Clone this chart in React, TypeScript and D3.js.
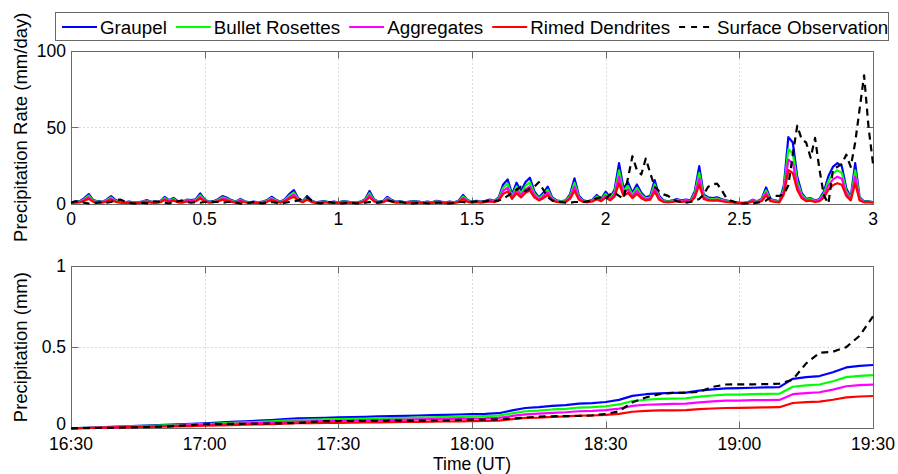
import React, { useEffect, useRef } from "react";
import * as d3 from "d3";

const seriesNames = ["Graupel", "Bullet Rosettes", "Aggregates", "Rimed Dendrites", "Surface Observation"];
const seriesColors = ["#0000ff", "#00ff00", "#ff00ff", "#ff0000", "#000000"];

// Precipitation rate (mm/day), one sample per minute from 16:30 UT (181 samples, 3 h)
const graupelRate = [
  0.8, 1.2, 1.5, 3.5, 6.2, 2.2, 1.5, 1.2, 2.5, 4.9,
  2.2, 1.2, 0.8, 1.2, 0.8, 0.8, 1.2, 2.2, 1.2, 0.8,
  1.5, 4.3, 2.2, 3.7, 1.5, 1.2, 2.5, 2.2, 2.8, 6.6,
  2.5, 1.2, 1.5, 2.8, 4.9, 3.8, 2.2, 1.2, 3, 1.5,
  0.8, 1.2, 0.8, 1.2, 2.2, 4.4, 2.5, 1.2, 2.8, 6.2,
  8.8, 3.5, 1.5, 4.9, 1.8, 0.8, 1.2, 1.5, 0.8, 1.2,
  0.8, 1.5, 1.2, 0.8, 0.8, 1.2, 2.8, 8.2, 2.8, 1.2,
  1.5, 4.4, 2.2, 1.2, 1.5, 0.8, 1.2, 1.5, 1.2, 0.8,
  1.2, 0.8, 1.8, 1.2, 0.8, 1.2, 0.8, 1.8, 5.6, 2.2,
  1.2, 1.8, 1.2, 1.8, 2.5, 1.8, 4, 12.5, 15.8, 6,
  13.6, 8, 14, 16.9, 8, 4, 7, 11, 4, 2,
  1.5, 2, 6, 16.5, 5, 2, 1.5, 2.5, 5.6, 3,
  7.7, 4, 9, 26.5, 10, 14, 7, 12.5, 7, 4,
  5, 15.3, 5, 2, 1.5, 2, 3, 2, 2.5, 2,
  8, 24.5, 6, 4, 3.5, 4, 3, 2, 1.5, 1,
  0.5, 0.5, 1, 2.5, 1.5, 3, 10.5, 3, 2, 1.5,
  12, 43.5, 40, 17.5, 7, 3, 3.5, 2, 3, 8,
  18, 24, 26.5, 24.5, 10, 4, 26.5, 4, 1.5, 1.5, 1,
];

const bulletRate = [
  0.7, 1.0, 1.2, 2.9, 5.1, 1.8, 1.2, 1.0, 2.1, 4.0,
  1.8, 1.0, 0.7, 1.0, 0.7, 0.7, 1.0, 1.8, 1.0, 0.7,
  1.2, 3.5, 1.8, 3.0, 1.2, 1.0, 2.1, 1.8, 2.3, 5.4,
  2.1, 1.0, 1.2, 2.3, 4.0, 3.1, 1.8, 1.0, 2.5, 1.2,
  0.7, 1.0, 0.7, 1.0, 1.8, 3.6, 2.1, 1.0, 2.3, 5.1,
  7.2, 2.9, 1.2, 4.0, 1.5, 0.7, 1.0, 1.2, 0.7, 1.0,
  0.7, 1.2, 1.0, 0.7, 0.7, 1.0, 2.3, 6.7, 2.3, 1.0,
  1.2, 3.6, 1.8, 1.0, 1.2, 0.7, 1.0, 1.2, 1.0, 0.7,
  1.0, 0.7, 1.5, 1.0, 0.7, 1.0, 0.7, 1.5, 4.6, 1.8,
  1.0, 1.5, 1.0, 1.5, 2.1, 1.5, 3.3, 10.3, 13.0, 4.9,
  11.2, 6.6, 11.5, 13.9, 6.6, 3.3, 5.7, 9.0, 3.3, 1.6,
  1.2, 1.6, 4.9, 13.5, 4.1, 1.6, 1.2, 2.1, 4.6, 2.5,
  6.3, 3.3, 7.4, 21.7, 8.2, 11.5, 5.7, 10.3, 5.7, 3.3,
  4.1, 12.5, 4.1, 1.6, 1.2, 1.6, 2.5, 1.6, 2.1, 1.6,
  6.6, 20.1, 4.9, 3.3, 2.9, 3.3, 2.5, 1.6, 1.2, 0.8,
  0.4, 0.4, 0.8, 2.1, 1.2, 2.5, 8.6, 2.5, 1.6, 1.2,
  9.8, 35.7, 32.8, 14.4, 5.7, 2.5, 2.9, 1.6, 2.5, 6.6,
  14.8, 19.7, 21.7, 20.1, 8.2, 3.3, 21.7, 3.3, 1.2, 1.2, 0.8,
];

const aggregatesRate = [
  0.5, 0.8, 1.0, 2.3, 4.1, 1.5, 1.0, 0.8, 1.7, 3.2,
  1.5, 0.8, 0.5, 0.8, 0.5, 0.5, 0.8, 1.5, 0.8, 0.5,
  1.0, 2.8, 1.5, 2.4, 1.0, 0.8, 1.7, 1.5, 1.8, 4.4,
  1.7, 0.8, 1.0, 1.8, 3.2, 2.5, 1.5, 0.8, 2.0, 1.0,
  0.5, 0.8, 0.5, 0.8, 1.5, 2.9, 1.7, 0.8, 1.8, 4.1,
  5.8, 2.3, 1.0, 3.2, 1.2, 0.5, 0.8, 1.0, 0.5, 0.8,
  0.5, 1.0, 0.8, 0.5, 0.5, 0.8, 1.8, 5.4, 1.8, 0.8,
  1.0, 2.9, 1.5, 0.8, 1.0, 0.5, 0.8, 1.0, 0.8, 0.5,
  0.8, 0.5, 1.2, 0.8, 0.5, 0.8, 0.5, 1.2, 3.7, 1.5,
  0.8, 1.2, 0.8, 1.2, 1.7, 1.2, 2.6, 8.3, 10.4, 4.0,
  9.0, 5.3, 9.2, 11.2, 5.3, 2.6, 4.6, 7.3, 2.6, 1.3,
  1.0, 1.3, 4.0, 10.9, 3.3, 1.3, 1.0, 1.7, 3.7, 2.0,
  5.1, 2.6, 5.9, 17.5, 6.6, 9.2, 4.6, 8.3, 4.6, 2.6,
  3.3, 10.1, 3.3, 1.3, 1.0, 1.3, 2.0, 1.3, 1.7, 1.3,
  5.3, 16.2, 4.0, 2.6, 2.3, 2.6, 2.0, 1.3, 1.0, 0.7,
  0.3, 0.3, 0.7, 1.7, 1.0, 2.0, 6.9, 2.0, 1.3, 1.0,
  7.9, 28.7, 26.4, 11.6, 4.6, 2.0, 2.3, 1.3, 2.0, 5.3,
  11.9, 15.8, 17.5, 16.2, 6.6, 2.6, 17.5, 2.6, 1.0, 1.0, 0.7,
];

const rimedRate = [
  0.4, 0.6, 0.8, 1.8, 3.1, 1.1, 0.8, 0.6, 1.3, 2.5,
  1.1, 0.6, 0.4, 0.6, 0.4, 0.4, 0.6, 1.1, 0.6, 0.4,
  0.8, 2.2, 1.1, 1.9, 0.8, 0.6, 1.3, 1.1, 1.4, 3.3,
  1.3, 0.6, 0.8, 1.4, 2.5, 1.9, 1.1, 0.6, 1.5, 0.8,
  0.4, 0.6, 0.4, 0.6, 1.1, 2.2, 1.3, 0.6, 1.4, 3.1,
  4.4, 1.8, 0.8, 2.5, 0.9, 0.4, 0.6, 0.8, 0.4, 0.6,
  0.4, 0.8, 0.6, 0.4, 0.4, 0.6, 1.4, 4.1, 1.4, 0.6,
  0.8, 2.2, 1.1, 0.6, 0.8, 0.4, 0.6, 0.8, 0.6, 0.4,
  0.6, 0.4, 0.9, 0.6, 0.4, 0.6, 0.4, 0.9, 2.8, 1.1,
  0.6, 0.9, 0.6, 0.9, 1.3, 0.9, 2, 6.3, 7.9, 3,
  6.8, 4, 7, 8.5, 4, 2, 3.5, 5.5, 2, 1,
  0.8, 1, 3, 8.3, 2.5, 1, 0.8, 1.3, 2.8, 1.5,
  3.9, 2, 4.5, 13.3, 5, 7, 3.5, 6.3, 3.5, 2,
  2.5, 7.7, 2.5, 1, 0.8, 1, 1.5, 1, 1.3, 1,
  4, 12.3, 3, 2, 1.8, 2, 1.5, 1, 0.8, 0.5,
  0.3, 0.3, 0.5, 1.3, 0.8, 1.5, 5.3, 1.5, 1, 0.8,
  6, 21.8, 20, 8.8, 3.5, 1.5, 1.8, 1, 1.5, 4,
  9, 12, 13.3, 12.3, 5, 2, 13.3, 2, 0.8, 0.8, 0.5,
];

const observedRate = [
  0.5, 1.5, 1, 0.5, 0, 0, 0.5, 1, 0.5, 1,
  2, 2.6, 1.5, 0.5, 0, 0, 0.5, 0, 1, 1.5,
  1, 0.5, 0, 1, 1.5, 2, 1, 0.5, 1, 0.5,
  1, 1.5, 1, 1, 0.5, 1, 1, 0.5, 0, 0,
  0.5, 1, 0.5, 0, 0.5, 1, 0.5, 0, 0.5, 1,
  1.5, 2, 3.5, 4, 2, 0.5, 0, 0.5, 1, 0.5,
  0, 0, 0.5, 0.5, 0, 0, 0.5, 1, 0.5, 0.5,
  1.5, 2, 1.5, 0.5, 1, 0.5, 0, 0, 0.5, 0.5,
  0, 0, 0.5, 0.5, 0, 0, 0.5, 1, 1, 0.5,
  1, 1.5, 1, 1.5, 2, 1.5, 2, 3, 5, 7,
  9, 11, 8, 10, 11, 14, 9, 4, 2, 1,
  1, 0.5, 0.5, 1, 1, 1, 1.5, 2, 3.5, 4,
  3, 6, 7, 5, 3, 16.5, 31, 22, 19, 29.5,
  20, 11, 8, 6, 5, 3, 1.5, 1, 0.5, 1,
  2, 3, 6, 11, 12.5, 13, 9, 4, 2, 1,
  0, 0, 0, 0, 0.5, 1, 2, 4, 5, 5,
  6, 12, 32, 51, 42, 40, 30, 43, 22, 5,
  0, 22, 24, 26, 32, 24, 40, 62, 84, 50, 26,
];

// Accumulated precipitation (mm), one sample every 3 minutes from 16:30 UT
const graupelAccum = [
  0, 0.003, 0.006, 0.009, 0.012, 0.015, 0.018, 0.021, 0.024, 0.028,
  0.031, 0.035, 0.039, 0.043, 0.047, 0.051, 0.056, 0.061, 0.063, 0.065,
  0.067, 0.069, 0.071, 0.073, 0.075, 0.077, 0.079, 0.081, 0.083, 0.085,
  0.087, 0.089, 0.093, 0.11, 0.125, 0.13, 0.138, 0.143, 0.152, 0.155,
  0.162, 0.175, 0.2, 0.21, 0.215, 0.218, 0.22, 0.232, 0.24, 0.246,
  0.248, 0.25, 0.252, 0.254, 0.305, 0.315, 0.322, 0.345, 0.375, 0.385, 0.39,
];
const bulletAccum = [
  0, 0.003, 0.005, 0.008, 0.01, 0.013, 0.015, 0.018, 0.02, 0.024,
  0.026, 0.029, 0.033, 0.036, 0.039, 0.043, 0.047, 0.051, 0.053, 0.055,
  0.056, 0.058, 0.06, 0.061, 0.063, 0.065, 0.066, 0.068, 0.07, 0.071,
  0.073, 0.075, 0.078, 0.092, 0.105, 0.109, 0.116, 0.12, 0.128, 0.13,
  0.136, 0.147, 0.168, 0.176, 0.181, 0.183, 0.185, 0.195, 0.202, 0.207,
  0.208, 0.21, 0.212, 0.213, 0.256, 0.265, 0.27, 0.29, 0.315, 0.323, 0.328,
];
const aggregatesAccum = [
  0, 0.002, 0.004, 0.006, 0.008, 0.01, 0.012, 0.014, 0.017, 0.019,
  0.021, 0.024, 0.027, 0.03, 0.032, 0.035, 0.039, 0.042, 0.043, 0.045,
  0.046, 0.048, 0.049, 0.05, 0.052, 0.053, 0.055, 0.056, 0.057, 0.059,
  0.06, 0.061, 0.064, 0.076, 0.086, 0.09, 0.095, 0.099, 0.105, 0.107,
  0.112, 0.121, 0.138, 0.145, 0.148, 0.15, 0.152, 0.16, 0.166, 0.17,
  0.171, 0.173, 0.174, 0.175, 0.21, 0.217, 0.222, 0.238, 0.259, 0.266, 0.269,
];
const rimedAccum = [
  0, 0.002, 0.003, 0.005, 0.006, 0.008, 0.009, 0.011, 0.012, 0.014,
  0.016, 0.018, 0.02, 0.022, 0.024, 0.026, 0.029, 0.031, 0.032, 0.033,
  0.034, 0.035, 0.036, 0.037, 0.038, 0.039, 0.04, 0.041, 0.042, 0.043,
  0.044, 0.045, 0.047, 0.056, 0.064, 0.066, 0.07, 0.073, 0.078, 0.079,
  0.083, 0.089, 0.102, 0.107, 0.11, 0.111, 0.112, 0.118, 0.122, 0.125,
  0.126, 0.128, 0.129, 0.13, 0.156, 0.161, 0.164, 0.176, 0.191, 0.196, 0.199,
];
const observedAccum = [
  0, 0.001, 0.002, 0.003, 0.005, 0.006, 0.008, 0.01, 0.014, 0.02,
  0.025, 0.026, 0.027, 0.028, 0.029, 0.03, 0.031, 0.033, 0.04, 0.044,
  0.045, 0.045, 0.046, 0.046, 0.047, 0.047, 0.047, 0.048, 0.048, 0.052,
  0.053, 0.053, 0.055, 0.06, 0.066, 0.072, 0.074, 0.075, 0.076, 0.08,
  0.088, 0.105, 0.16, 0.19, 0.21, 0.218, 0.22, 0.225, 0.255, 0.27,
  0.271, 0.271, 0.272, 0.275, 0.3, 0.4, 0.465, 0.472, 0.5, 0.57, 0.69,
];

const hourTicks = [0, 0.5, 1, 1.5, 2, 2.5, 3];
const rateTicks = [0, 50, 100];
const accumTicks = [0, 0.5, 1];
const timeTickMinutes = [0, 30, 60, 90, 120, 150, 180];
const timeTickLabels = ["16:30", "17:00", "17:30", "18:00", "18:30", "19:00", "19:30"];

const W = 898;
const H = 474;
const FONT = "'Liberation Sans', Arial, Helvetica, sans-serif";
const FRAME = "#6a6a6a";
const LINE_W = 2.2;
const DASH = "7,5";
const TICK_FONT = 17.5;

type Scale = d3.ScaleLinear<number, number>;

function drawAxes(
  g: d3.Selection<SVGGElement, unknown, null, undefined>,
  x: Scale,
  y: Scale,
  xVals: number[],
  xLabel: (v: number, i: number) => string,
  yVals: number[],
  yLabel: (v: number) => string,
  lowestLabelLift: number
) {
  const [x0, x1] = x.range();
  const [yb, yt] = y.range();
  const px = (v: number) => Math.round(x(v)) + 0.5;
  const py = (v: number) => Math.round(y(v)) + 0.5;
  const L = Math.round(x0) + 0.5, R = Math.round(x1) + 0.5;
  const T = Math.round(yt) + 0.5, B = Math.round(yb) + 0.5;

  const grid = g.append("g")
    .attr("stroke", "#b8b8b8")
    .attr("stroke-width", 1)
    .attr("stroke-dasharray", "1,3");
  xVals.slice(1, -1).forEach((v) => {
    grid.append("line").attr("x1", px(v)).attr("x2", px(v)).attr("y1", B).attr("y2", T);
  });
  yVals.slice(1, -1).forEach((v) => {
    grid.append("line").attr("x1", L).attr("x2", R).attr("y1", py(v)).attr("y2", py(v));
  });

  g.append("rect")
    .attr("x", L).attr("y", T).attr("width", R - L).attr("height", B - T)
    .attr("fill", "none").attr("stroke", FRAME).attr("stroke-width", 1);

  const ticks = g.append("g").attr("stroke", FRAME).attr("stroke-width", 1);
  const tl = 7;
  xVals.forEach((v) => {
    ticks.append("line").attr("x1", px(v)).attr("x2", px(v)).attr("y1", B).attr("y2", B - tl);
    ticks.append("line").attr("x1", px(v)).attr("x2", px(v)).attr("y1", T).attr("y2", T + tl);
  });
  yVals.forEach((v) => {
    ticks.append("line").attr("x1", L).attr("x2", L + tl).attr("y1", py(v)).attr("y2", py(v));
    ticks.append("line").attr("x1", R).attr("x2", R - tl).attr("y1", py(v)).attr("y2", py(v));
  });

  const labels = g.append("g").attr("font-family", FONT).attr("font-size", TICK_FONT).attr("fill", "#000");
  xVals.forEach((v, i) => {
    labels.append("text")
      .attr("x", x(v)).attr("y", yb + 21.5)
      .attr("text-anchor", "middle")
      .text(xLabel(v, i));
  });
  yVals.forEach((v, i) => {
    labels.append("text")
      .attr("x", x0 - 5).attr("y", y(v) + 6.3 - (i === 0 ? lowestLabelLift : 0))
      .attr("text-anchor", "end")
      .text(yLabel(v));
  });
}

export default function App() {
  const ref = useRef<SVGSVGElement>(null);

  useEffect(() => {
    const svg = d3.select(ref.current);
    svg.selectAll("*").remove();
    svg.append("rect").attr("width", W).attr("height", H).attr("fill", "#fff");

    // Upper panel: precipitation rate vs hours since 16:30 UT
    const xRate = d3.scaleLinear().domain([0, 3]).range([71, 873]);
    const yRate = d3.scaleLinear().domain([0, 100]).range([203.5, 51]);
    // Lower panel: accumulated precipitation vs minutes since 16:30 UT
    const xAcc = d3.scaleLinear().domain([0, 180]).range([71, 873]);
    const yAcc = d3.scaleLinear().domain([0, 1]).range([428.3, 266]);

    const top = svg.append("g");
    drawAxes(top, xRate, yRate, hourTicks, (v) => d3.format("~g")(v), rateTicks, (v) => String(v), 0);
    const bottom = svg.append("g");
    // the "0" of the lower panel is lifted a little so it clears the "16:30" label
    drawAxes(bottom, xAcc, yAcc, timeTickMinutes, (_v, i) => timeTickLabels[i], accumTicks, (v) => d3.format("~g")(v), 4.5);

    const rateSeries = [graupelRate, bulletRate, aggregatesRate, rimedRate, observedRate];
    const accumSeries = [graupelAccum, bulletAccum, aggregatesAccum, rimedAccum, observedAccum];

    const rateLine = d3.line<number>()
      .x((_d, i) => xRate(i / 60))
      .y((d) => yRate(d));
    const accLine = d3.line<number>()
      .x((_d, i) => xAcc(i * 3))
      .y((d) => yAcc(d));

    rateSeries.forEach((s, k) => {
      top.append("path")
        .attr("d", rateLine(s))
        .attr("fill", "none")
        .attr("stroke", seriesColors[k])
        .attr("stroke-width", LINE_W)
        .attr("stroke-linejoin", "round")
        .attr("stroke-dasharray", k === 4 ? DASH : null);
    });
    accumSeries.forEach((s, k) => {
      bottom.append("path")
        .attr("d", accLine(s))
        .attr("fill", "none")
        .attr("stroke", seriesColors[k])
        .attr("stroke-width", LINE_W)
        .attr("stroke-linejoin", "round")
        .attr("stroke-dasharray", k === 4 ? DASH : null);
    });

    // Axis titles
    const titles = svg.append("g").attr("font-family", FONT).attr("fill", "#000");
    titles.append("text")
      .attr("transform", `translate(27,${(51 + 203.5) / 2}) rotate(-90)`)
      .attr("text-anchor", "middle")
      .attr("font-size", 18.5)
      .text("Precipitation Rate (mm/day)");
    titles.append("text")
      .attr("transform", `translate(27,${(266 + 428.3) / 2}) rotate(-90)`)
      .attr("text-anchor", "middle")
      .attr("font-size", 18.5)
      .text("Precipitation (mm)");
    titles.append("text")
      .attr("x", 472).attr("y", 470)
      .attr("text-anchor", "middle")
      .attr("font-size", 17.5)
      .text("Time (UT)");

    // Legend
    const legend = svg.append("g").attr("font-family", FONT).attr("font-size", 18.8);
    legend.append("rect")
      .attr("x", 55.5).attr("y", 12.5).attr("width", 833).attr("height", 28)
      .attr("fill", "#fff").attr("stroke", FRAME).attr("stroke-width", 1);
    let lx = 62;
    const ly = 27;
    seriesNames.forEach((name, k) => {
      legend.append("line")
        .attr("x1", lx).attr("x2", lx + 35).attr("y1", ly).attr("y2", ly)
        .attr("stroke", seriesColors[k]).attr("stroke-width", LINE_W)
        .attr("stroke-dasharray", k === 4 ? "6,6" : null);
      const t = legend.append("text")
        .attr("x", lx + 38).attr("y", ly + 6.8)
        .attr("fill", "#000")
        .text(name);
      const w = (t.node() as SVGTextElement).getComputedTextLength();
      lx = lx + 38 + w + 9;
    });
  }, []);

  return (
    <svg
      ref={ref}
      width={W}
      height={H}
      style={{ position: "absolute", left: 0, top: 0, display: "block" }}
    />
  );
}
